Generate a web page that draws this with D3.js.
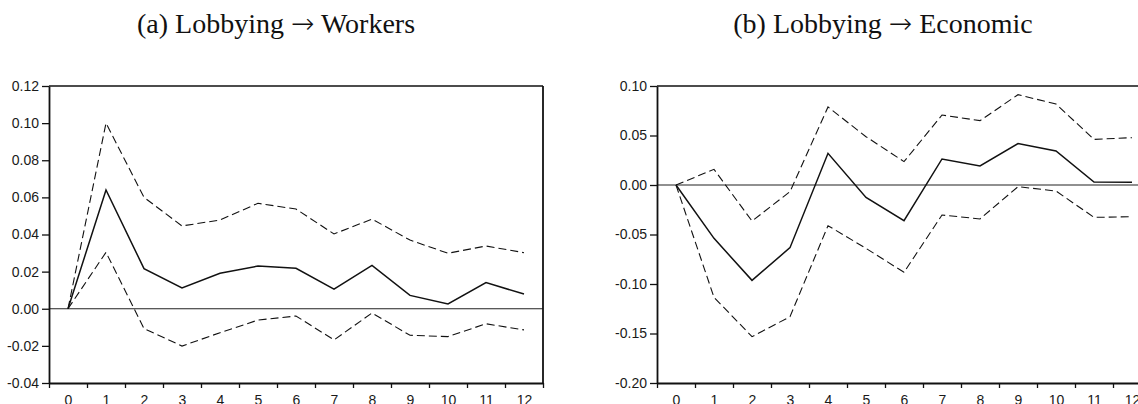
<!DOCTYPE html>
<html>
<head>
<meta charset="utf-8">
<script src="https://cdn.jsdelivr.net/npm/d3@7"></script>
<style>
  html, body { margin: 0; padding: 0; background: #fff; }
  svg { display: block; }
  .tick text { font-family: "Liberation Sans", Arial, Helvetica, sans-serif; font-size: 14px; fill: #1a1a1a; }
  .title { font-family: "Liberation Serif", "Times New Roman", serif; font-size: 28px; fill: #111; }
  .title .arrow { font-family: "DejaVu Sans", sans-serif; font-weight: 300; }
</style>
</head>
<body>
<svg id="fig" width="1138" height="404"></svg>
<script>
// Forecast horizon (steps after the shock)
const steps = [0, 1, 2, 3, 4, 5, 6, 7, 8, 9, 10, 11, 12];

// (a) Lobbying -> Workers: impulse response with confidence band
const workersIRF   = [0, 0.064, 0.0216, 0.0112, 0.0191, 0.0230, 0.0218, 0.0106, 0.0234, 0.0072, 0.0026, 0.0141, 0.0079];
const workersUpper = [0, 0.100, 0.0600, 0.0446, 0.0478, 0.0568, 0.0537, 0.0403, 0.0483, 0.0370, 0.0299, 0.0338, 0.0302];
const workersLower = [0, 0.0304, -0.0107, -0.0201, -0.0129, -0.0061, -0.0039, -0.0168, -0.0023, -0.0143, -0.0150, -0.0081, -0.0114];
const workersTicks = [-0.04, -0.02, 0.00, 0.02, 0.04, 0.06, 0.08, 0.10, 0.12];

// (b) Lobbying -> Economic
const economicIRF   = [0, -0.0539, -0.0963, -0.0633, 0.0320, -0.0125, -0.0360, 0.0263, 0.0192, 0.0418, 0.0343, 0.0030, 0.0027];
const economicUpper = [0, 0.0158, -0.0364, -0.0067, 0.0788, 0.0488, 0.0236, 0.0707, 0.0650, 0.0912, 0.0818, 0.0461, 0.0478];
const economicLower = [0, -0.1135, -0.1532, -0.1330, -0.0411, -0.0640, -0.0882, -0.0303, -0.0343, -0.0017, -0.0061, -0.0327, -0.0320];
const economicTicks = [-0.20, -0.15, -0.10, -0.05, 0.00, 0.05, 0.10];

// panel titles: [label, source, target]
const titles = [["(a)", "Lobbying", "Workers"], ["(b)", "Lobbying", "Economic"]];

const svg = d3.select("#fig");
const fmt = v => d3.format(".2f")(v).replace("\u2212", "-");

const plotTop = 86, plotBottom = 383, plotW = 494;

function panel(opts) {
  const g = svg.append("g");
  const x = d3.scaleLinear().domain([-0.5, steps.length - 0.5]).range([opts.left, opts.left + plotW]);
  const y = d3.scaleLinear().domain(opts.domain).range([plotBottom, plotTop]);

  // title
  const t = g.append("text").attr("class", "title")
    .attr("x", opts.titleX).attr("y", 33)
    .attr("text-anchor", "middle");
  t.append("tspan").text(`${opts.title[0]} ${opts.title[1]} `);
  t.append("tspan").attr("class", "arrow").text("\u2192");
  t.append("tspan").text(` ${opts.title[2]}`);

  // zero reference line
  g.append("line")
    .attr("x1", opts.left).attr("x2", opts.left + plotW)
    .attr("y1", y(0)).attr("y2", y(0))
    .attr("stroke", "#222").attr("stroke-width", 1.2);

  // frame: top and right edges
  g.append("line").attr("x1", opts.left).attr("x2", opts.left + plotW)
    .attr("y1", plotTop).attr("y2", plotTop).attr("stroke", "#111").attr("stroke-width", 1.4);
  g.append("line").attr("x1", opts.left + plotW).attr("x2", opts.left + plotW)
    .attr("y1", plotTop).attr("y2", plotBottom).attr("stroke", "#111").attr("stroke-width", 1.8);

  // y axis
  const ya = g.append("g").attr("transform", `translate(${opts.left},0)`)
    .call(d3.axisLeft(y).tickValues(opts.ticks).tickFormat(fmt).tickSize(7).tickPadding(3).tickSizeOuter(0));
  ya.select(".domain").attr("stroke", "#111").attr("stroke-width", 1.8);
  ya.selectAll(".tick line").attr("stroke", "#111").attr("stroke-width", 1.3);

  // x axis: ticks at step boundaries, labels at step centres
  const bounds = d3.range(-0.5, steps.length, 1);
  const xa = g.append("g").attr("transform", `translate(0,${plotBottom})`)
    .call(d3.axisBottom(x).tickValues(bounds).tickFormat("").tickSize(5).tickSizeOuter(0));
  xa.select(".domain").attr("stroke", "#111").attr("stroke-width", 1.8);
  xa.selectAll(".tick line").attr("stroke", "#111").attr("stroke-width", 1.3);
  const xl = g.append("g").attr("transform", `translate(0,${plotBottom})`)
    .call(d3.axisBottom(x).tickValues(steps).tickFormat(d3.format("d")).tickSize(0));
  xl.select(".domain").remove();
  xl.selectAll(".tick text").attr("y", 22).attr("dy", 0);

  const line = d3.line().x((d, i) => x(steps[i])).y(d => y(d));

  g.append("path").datum(opts.upper).attr("d", line)
    .attr("fill", "none").attr("stroke", "#111").attr("stroke-width", 1.1).attr("stroke-dasharray", "8,4");
  g.append("path").datum(opts.lower).attr("d", line)
    .attr("fill", "none").attr("stroke", "#111").attr("stroke-width", 1.1).attr("stroke-dasharray", "8,4");
  g.append("path").datum(opts.irf).attr("d", line)
    .attr("fill", "none").attr("stroke", "#111").attr("stroke-width", 1.5);
}

panel({ left: 49, domain: [-0.04, 0.12], ticks: workersTicks, irf: workersIRF, upper: workersUpper, lower: workersLower, title: titles[0], titleX: 276 });
panel({ left: 657, domain: [-0.20, 0.10], ticks: economicTicks, irf: economicIRF, upper: economicUpper, lower: economicLower, title: titles[1], titleX: 883 });
</script>
</body>
</html>
